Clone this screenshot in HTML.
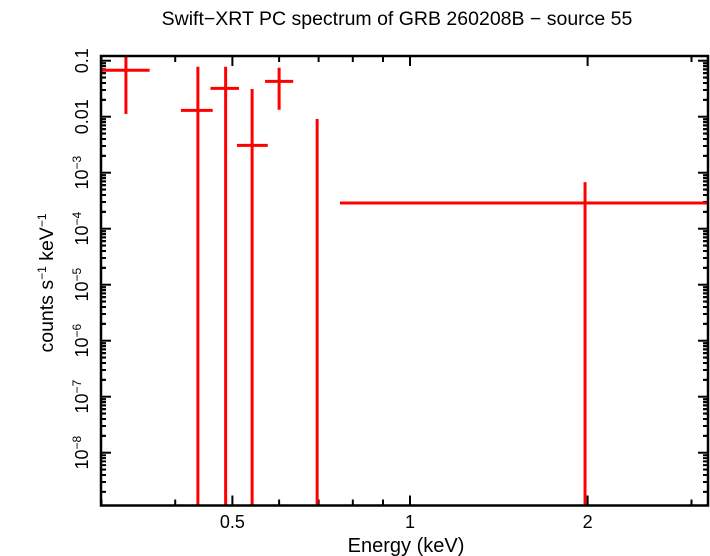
<!DOCTYPE html>
<html><head><meta charset="utf-8"><style>
html,body{margin:0;padding:0;background:#fff;}
svg{display:block;font-family:"Liberation Sans",sans-serif;}
</style></head><body>
<svg id="chart" width="710" height="556" viewBox="0 0 710 556" xmlns="http://www.w3.org/2000/svg">
<text x="397" y="25" font-size="19.5" text-anchor="middle">Swift−XRT PC spectrum of GRB 260208B − source 55</text>
<text x="406" y="552" font-size="20" text-anchor="middle">Energy (keV)</text>
<text transform="translate(53,283) rotate(-90)" font-size="19.5" text-anchor="middle">counts s<tspan font-size="12" dy="-7">−1</tspan><tspan dy="7"> keV</tspan><tspan font-size="12" dy="-7">−1</tspan></text>
<g id="ticks"></g>
<g id="marks"></g>
<rect x="101" y="56" width="607" height="449.5" fill="none" stroke="#000" stroke-width="2.5"/>
</svg>
<script>
const eCenter=[0.330,0.437,0.487,0.540,0.600,0.696,1.98];
const eLo=[0.299,0.409,0.459,0.509,0.568,0.696,0.761];
const eHi=[0.362,0.463,0.513,0.574,0.634,0.696,3.2];
const rate=[0.0674,0.0130,0.0321,0.00308,0.0428,1e-12,2.88e-4];
const rateHi=[0.2,0.078,0.078,0.0313,0.075,0.0091,6.8e-4];
const rateLo=[0.0112,1e-12,1e-12,1e-12,0.0133,1e-12,1e-12];
const xMajor=[0.5,1,2];
const xMajorLabels=["0.5","1","2"];
const xMinor=[0.3,0.4,0.6,0.7,0.8,0.9,3];
const yExps=[-1,-2,-3,-4,-5,-6,-7,-8];
const yLabels=["0.1","0.01","10|−3","10|−4","10|−5","10|−6","10|−7","10|−8"];

const L=101,R=708,T=56,B=505.5;
function xs(e){return 410+590*Math.log10(e);}
function ys(v){return 60.7-56*(Math.log10(v)+1);}
function cx(x){return Math.max(L,Math.min(R,x));}
function cy(y){return Math.max(T,Math.min(B,y));}
const NS="http://www.w3.org/2000/svg";
function mk(tag,attrs,parent){const el=document.createElementNS(NS,tag);for(const k in attrs)el.setAttribute(k,attrs[k]);parent.appendChild(el);return el;}
const tg=document.getElementById('ticks'), mg=document.getElementById('marks');

xMajor.forEach((e,i)=>{
  const x=xs(e);
  const t=mk('line',{x1:x,x2:x,y1:B,y2:B-10,stroke:'#000','stroke-width':2},tg);
  
  
  const t2=mk('line',{x1:x,x2:x,y1:T,y2:T+10,stroke:'#000','stroke-width':2},tg);
  
  
  const lb=mk('text',{x:x,y:528,'font-size':18,'text-anchor':'middle'},tg);
  lb.textContent=xMajorLabels[i];
  
  
});
xMinor.forEach(e=>{
  const x=xs(e); if(x<L||x>R)return;
  const t=mk('line',{x1:x,x2:x,y1:B,y2:B-6,stroke:'#000','stroke-width':2},tg);
  
  
  const t2=mk('line',{x1:x,x2:x,y1:T,y2:T+6,stroke:'#000','stroke-width':2},tg);
  
  
});
yExps.forEach((p,i)=>{
  const y=ys(Math.pow(10,p));
  [[L,L+10],[R,R-10]].forEach(s=>{
    const t=mk('line',{x1:s[0],x2:s[1],y1:y,y2:y,stroke:'#000','stroke-width':2},tg);
    
    
  });
  for(let m=2;m<=9;m++){
    const ym=ys(m*Math.pow(10,p-1));
    const ymm=ys(m*Math.pow(10,p));
    [ym,ymm].forEach(yy=>{
      if(yy<T||yy>B)return;
      [[L,L+5],[R,R-5]].forEach(s=>{
        const t=mk('line',{x1:s[0],x2:s[1],y1:yy,y2:yy,stroke:'#000','stroke-width':2},tg);
        
        
      });
    });
  }
  const parts=yLabels[i].split('|');
  const lb=mk('text',{transform:`translate(88,${y}) rotate(-90)`,'font-size':18,'text-anchor':'middle'},tg);
  
  
  if(parts.length===1){lb.textContent=parts[0];}
  else{
    const a=mk('tspan',{},lb);a.textContent=parts[0];
    const b=mk('tspan',{'font-size':12,dy:-7},lb);b.textContent=parts[1];
  }
});
eCenter.forEach((e,i)=>{
  if(eHi[i]>eLo[i]){
    const h=mk('line',{x1:cx(xs(eLo[i])),x2:cx(xs(eHi[i])),y1:ys(rate[i]),y2:ys(rate[i]),stroke:'#f00','stroke-width':3},mg);
    
    
    if(ys(rate[i])>B||ys(rate[i])<T)h.setAttribute('display','none');
  }
  const v=mk('line',{x1:xs(e),x2:xs(e),y1:cy(ys(rateHi[i])),y2:cy(ys(rateLo[i])),stroke:'#f00','stroke-width':3},mg);
  
  
});
</script>
</body></html>
